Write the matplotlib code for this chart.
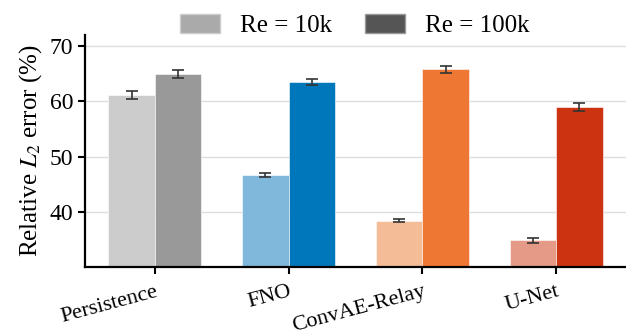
import numpy as np
import matplotlib.pyplot as plt
from matplotlib.patches import Patch

models = ["Persistence", "FNO", "ConvAE-Relay", "U-Net"]
err_10k = [61.2, 46.7, 38.4, 34.8]
std_10k = [0.7, 0.35, 0.3, 0.4]
err_100k = [65.0, 63.5, 65.8, 59.0]
std_100k = [0.7, 0.55, 0.65, 0.75]
colors_10k = ["#cccccc", "#80b8dc", "#f5bc98", "#e59a88"]
colors_100k = ["#999999", "#0077bb", "#ee7733", "#cc3311"]
legend_labels = ["Re = 10k", "Re = 100k"]

plt.rcParams["font.family"] = ["Liberation Serif", "DejaVu Serif"]
plt.rcParams["mathtext.fontset"] = "stix"
plt.rcParams["font.size"] = 16

fig = plt.figure(figsize=(6.26, 3.36), dpi=100)
ax = fig.add_axes([85 / 626, 1 - 267 / 336, 541 / 626, 232 / 336])

x = np.arange(len(models))
w = 0.345
ax.bar(x - w / 2, err_10k, w, color=colors_10k, edgecolor="white", linewidth=0.4, zorder=2)
ax.bar(x + w / 2, err_100k, w, color=colors_100k, edgecolor="white", linewidth=0.4, zorder=2)
ekw = dict(fmt="none", ecolor="#333333", elinewidth=1.2, capsize=4, capthick=1.2, zorder=3)
ax.errorbar(x - w / 2, err_10k, yerr=std_10k, **ekw)
ax.errorbar(x + w / 2, err_100k, yerr=std_100k, **ekw)

ax.set_ylim(30, 72)
ax.set_xlim(-0.52, 3.52)
ax.set_yticks([40, 50, 60, 70])
ax.set_xticks(x)
ax.set_xticklabels(models, rotation=15, ha="right", rotation_mode="anchor")
ax.set_ylabel("Relative $L_2$ error (%)", fontsize=18)
ax.grid(axis="y", color="#dddddd", linewidth=1, zorder=0)
ax.set_axisbelow(True)
for s in ["top", "right"]:
    ax.spines[s].set_visible(False)
for s in ["left", "bottom"]:
    ax.spines[s].set_linewidth(1.6)
ax.tick_params(width=1.5, length=5, labelsize=17)
ax.tick_params(axis="x", labelsize=16, pad=6)

handles = [Patch(facecolor="#aaaaaa", edgecolor="#cccccc"), Patch(facecolor="#555555", edgecolor="#999999")]
fig.legend(handles, legend_labels, loc="upper center", bbox_to_anchor=(0.567, 1.025), ncol=2,
           frameon=False, handlelength=1.6, handleheight=0.8, handletextpad=0.8,
           columnspacing=1.3, fontsize=18)

fig.savefig("out.png", dpi=100)
